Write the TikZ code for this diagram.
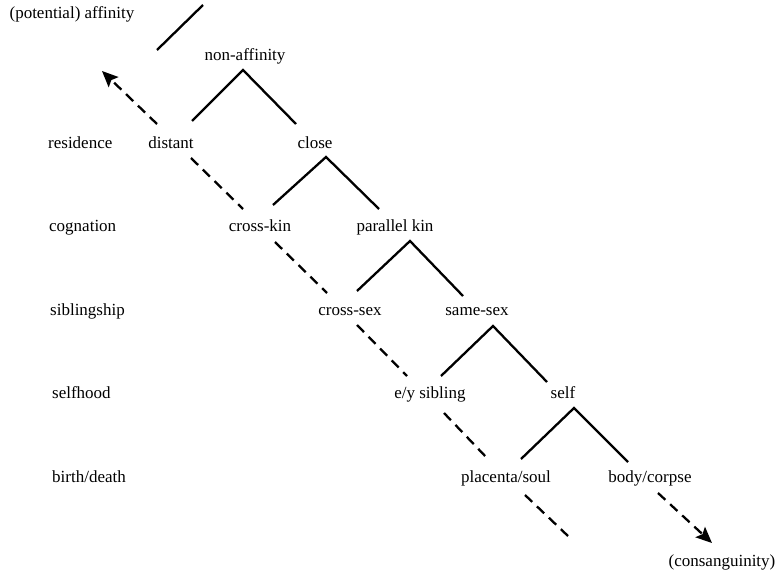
\documentclass[tikz,border=0pt]{standalone}
\usepackage{fontspec}
\setmainfont{Liberation Serif}
\usetikzlibrary{calc,arrows.meta}
\begin{document}
\begin{tikzpicture}[x=1pt,y=-1pt,
  txt/.style={font=\fontsize{17}{20}\selectfont, inner sep=0pt, text height=11pt, text depth=3pt},
  rowlbl/.style={txt, anchor=west},
  branch/.style={line width=2.3pt},
  trace/.style={line width=2.3pt, dash pattern=on 10pt off 6.5pt},
  tip/.style={-{Stealth[length=16pt,width=14pt,inset=3pt]}}]
\path[use as bounding box] (0,0) rectangle (781,575);

% row labels
\node[rowlbl] (rres) at (48,144) {residence};
\node[rowlbl] (rcog) at (49,227) {cognation};
\node[rowlbl] (rsib) at (50,311) {siblingship};
\node[rowlbl] (rslf) at (52,394) {selfhood};
\node[rowlbl] (rbd)  at (52,478) {birth/death};

% tree nodes
\node[txt] (pa)   at (72,15)   {(potential) affinity};
\node[txt] (na)   at (245,57)  {non-affinity};
\node[txt] (dist) at (171,144) {distant};
\node[txt] (cl)   at (315,144) {close};
\node[txt] (ck)   at (260,227) {cross-kin};
\node[txt] (pk)   at (395,227) {parallel kin};
\node[txt] (cs)   at (350,311) {cross-sex};
\node[txt] (ss)   at (477,311) {same-sex};
\node[txt] (ey)   at (430,394) {e/y sibling};
\node[txt] (slf)  at (563,394) {self};
\node[txt] (ps)   at (506,478) {placenta/soul};
\node[txt] (bc)   at (650,478) {body/corpse};
\node[txt] (cons) at (722,562) {(consanguinity)};

\coordinate (afftip) at (102,71);
\coordinate (psend) at (568,536);

% dividing stroke beside the affinity label
\draw[branch] ($(na)+(-88,-7)$) -- ($(na)+(-42,-52)$);

% solid branches
\draw[branch] ($(dist)+(21,-23)$) -- ($(na)+(-2,13)$) -- ($(cl)+(-19,-20)$);
\draw[branch] ($(ck)+(13,-22)$) -- ($(cl)+(11,13)$) -- ($(pk)+(-16,-18)$);
\draw[branch] ($(cs)+(7,-20)$) -- ($(pk)+(15,14)$) -- ($(ss)+(-14,-15)$);
\draw[branch] ($(ey)+(11,-18)$) -- ($(ss)+(16,15)$) -- ($(slf)+(-16,-12)$);
\draw[branch] ($(ps)+(15,-19)$) -- ($(slf)+(11,14)$) -- ($(bc)+(-22,-16)$);

% dashed traces
\draw[trace,tip] ($(dist)+(-14,-20)$) -- (afftip);
\draw[trace] ($(dist)+(20,14)$) -- ($(ck)+(-17,-18)$);
\draw[trace] ($(ck)+(15,15)$) -- ($(cs)+(-23,-18)$);
\draw[trace] ($(cs)+(7,14)$) -- ($(ey)+(-23,-18)$);
\draw[trace] ($(ey)+(14,19)$) -- ($(ps)+(-19,-20)$);
\draw[trace] ($(ps)+(19,17)$) -- (psend);
\draw[trace,tip] ($(bc)+(8,15)$) -- ($(cons)+(-10,-19)$);
\end{tikzpicture}
\end{document}
